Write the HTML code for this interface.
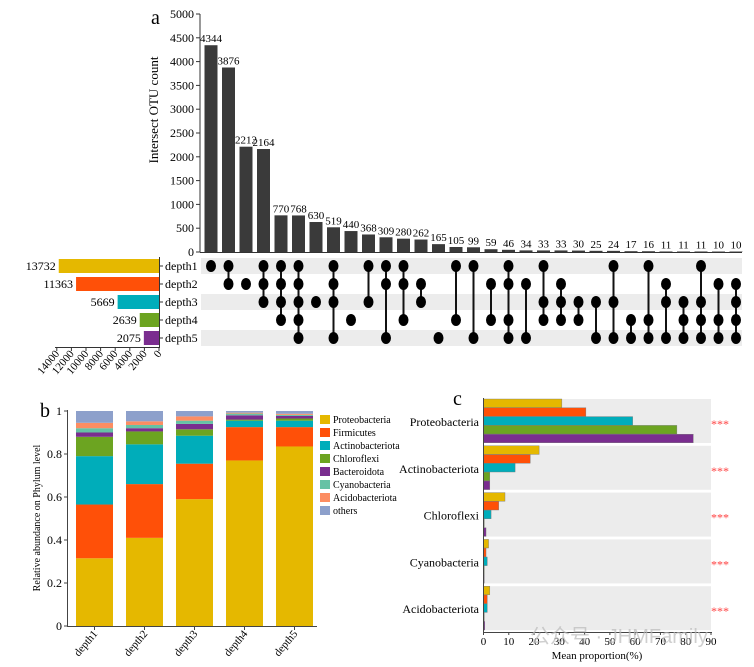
<!DOCTYPE html>
<html><head><meta charset="utf-8">
<style>
html,body{margin:0;padding:0;background:#fff;}
svg{display:block;font-family:"Liberation Serif",serif;}
</style></head>
<body>
<svg id="fig" width="754" height="667" viewBox="0 0 754 667" xmlns="http://www.w3.org/2000/svg"></svg>
<script>
// ---------- Panel a data ----------
const intersectCounts = [4344,3876,2212,2164,770,768,630,519,440,368,309,280,262,165,105,99,59,46,34,33,33,30,25,24,17,16,11,11,11,10,10];
const intersectSets = [[1],[1,2],[2],[1,2,3],[1,2,3,4],[1,2,3,4,5],[3],[1,2,3,5],[4],[1,3],[1,2,5],[1,2,4],[2,3],[5],[1,4],[1,5],[2,4],[1,2,4,5],[2,5],[1,3,4],[2,3,4],[3,4],[3,5],[1,3,5],[4,5],[1,4,5],[2,3,5],[3,4,5],[1,3,4,5],[2,4,5],[2,3,4,5]];
const setNames = ["depth1","depth2","depth3","depth4","depth5"];
const setSizes = [13732,11363,5669,2639,2075];
const upsetTicks = [0,500,1000,1500,2000,2500,3000,3500,4000,4500,5000];
const setTicks = [14000,12000,10000,8000,6000,4000,2000,0];
// ---------- Panel b data ----------
const depths = ["depth1","depth2","depth3","depth4","depth5"];
const phyla = ["Proteobacteria","Firmicutes","Actinobacteriota","Chloroflexi","Bacteroidota","Cyanobacteria","Acidobacteriota","others"];
const proteo = [0.315,0.41,0.59,0.77,0.835];
const firmic = [0.25,0.25,0.165,0.155,0.09];
const actino = [0.225,0.185,0.13,0.03,0.03];
const chloro = [0.09,0.06,0.03,0.005,0.01];
const bactero = [0.02,0.015,0.025,0.02,0.012];
const cyano = [0.02,0.015,0.015,0.008,0.005];
const acido = [0.025,0.017,0.02,0.004,0.005];
const others = [0.055,0.048,0.025,0.008,0.013];
const bTicks = [0,0.2,0.4,0.6,0.8,1];
// ---------- Panel c data ----------
const cCats = ["Proteobacteria","Actinobacteriota","Chloroflexi","Cyanobacteria","Acidobacteriota"];
const cD1 = [31,22,8.5,2,2.5];
const cD2 = [40.5,18.5,6,1,1.5];
const cD3 = [59,12.5,3,1.5,1.5];
const cD4 = [76.5,2.5,0.3,0.3,0.2];
const cD5 = [83,2.5,1,0.2,0.5];
const cTicks = [0,10,20,30,40,50,60,70,80,90];

const COLORS = ["#E5B800","#FF5008","#00ADBA","#6CA421","#7A2D8F","#66C2A5","#FC8D62","#8DA0CB"];
const NS="http://www.w3.org/2000/svg";
const svg=document.getElementById('fig');
function mk(tag,attrs,parent,text){const e=document.createElementNS(NS,tag);for(const k in attrs)e.setAttribute(k,attrs[k]);if(text!==undefined)e.textContent=text;(parent||svg).appendChild(e);return e;}

// ===== Panel a =====
const gA=mk('g',{});


const t=mk('text',{x:151,y:24,'font-size':20},gA,'a');

const ya=v=>252-v*238/5000;
const colX=i=>211+i*17.5;
const rowY=j=>266+j*18;
mk('line',{x1:200,y1:14,x2:200,y2:252,stroke:'#333','stroke-width':1},gA);
mk('line',{x1:200,y1:252.5,x2:742,y2:252.5,stroke:'#333','stroke-width':1},gA);
upsetTicks.forEach(v=>{
  mk('line',{x1:196,y1:ya(v),x2:200,y2:ya(v),stroke:'#333'},gA);
  const tl=mk('text',{x:194,y:ya(v)+4,'font-size':12,'text-anchor':'end'},gA,String(v));
  
});
const yt=mk('text',{x:0,y:0,'font-size':13,'text-anchor':'middle',transform:'translate(158,110) rotate(-90)'},gA,'Intersect OTU count');

[0,2,4].forEach(j=>{
  const r=mk('rect',{x:201,y:rowY(j)-8,width:541,height:16,fill:'#ececec'},gA);
  
});
intersectCounts.forEach((c,i)=>{
  const x=colX(i);
  const b=mk('rect',{x:x-6.5,y:ya(c),width:13,height:252-ya(c),fill:'#3a3a3a'},gA);
  
  const l=mk('text',{x:x,y:ya(c)-3,'font-size':11,'text-anchor':'middle'},gA,String(c));
  
  const s=intersectSets[i];
  if(s.length>1) mk('line',{x1:x,y1:rowY(s[0]-1),x2:x,y2:rowY(s[s.length-1]-1),stroke:'#111','stroke-width':2},gA);
  s.forEach(k=>{
    const d=mk('ellipse',{cx:x,cy:rowY(k-1),rx:5,ry:6,fill:'#000'},gA);
    
  });
});
const xs=v=>159-v*0.0073;
setNames.forEach((n,j)=>{
  const y=rowY(j);
  const b=mk('rect',{x:xs(setSizes[j]),y:y-7,width:159-xs(setSizes[j]),height:14,fill:COLORS[j]},gA);
  
  const l=mk('text',{x:xs(setSizes[j])-3,y:y+4,'font-size':12,'text-anchor':'end'},gA,String(setSizes[j]));
  
  mk('line',{x1:159,y1:y,x2:163,y2:y,stroke:'#333'},gA);
  const nl=mk('text',{x:165,y:y+4,'font-size':12},gA,n);
  
});
mk('line',{x1:159.5,y1:257,x2:159.5,y2:347,stroke:'#333'},gA);
mk('line',{x1:55,y1:347.5,x2:160,y2:347.5,stroke:'#333'},gA);
setTicks.forEach(v=>{
  mk('line',{x1:xs(v),y1:347,x2:xs(v),y2:351,stroke:'#333'},gA);
  const tl=mk('text',{x:0,y:0,'font-size':11,'text-anchor':'end',transform:`translate(${xs(v)+3},354) rotate(-50)`},gA,String(v));
  
});

// ===== Panel b =====
const gB=mk('g',{});


const tb=mk('text',{x:40,y:417,'font-size':20},gB,'b');

const yb=v=>626-v*215;
mk('line',{x1:67.5,y1:410,x2:67.5,y2:627,stroke:'#444'},gB);
mk('line',{x1:67,y1:626.5,x2:317,y2:626.5,stroke:'#444'},gB);
bTicks.forEach(v=>{
  mk('line',{x1:64,y1:yb(v),x2:67,y2:yb(v),stroke:'#444'},gB);
  const tl=mk('text',{x:62,y:yb(v)+4,'font-size':12,'text-anchor':'end'},gB,String(v));
  
});
const ybt=mk('text',{x:0,y:0,'font-size':10,'text-anchor':'middle',transform:'translate(40,518) rotate(-90)'},gB,'Relative abundance on Phylum level');

const series=[proteo,firmic,actino,chloro,bactero,cyano,acido,others];
depths.forEach((d,i)=>{
  const x=76+i*50;let cum=0;
  series.forEach((s,k)=>{
    const r=mk('rect',{x:x,y:yb(cum+s[i]),width:37,height:s[i]*215,fill:COLORS[k]},gB);
    
    cum+=s[i];
  });
  mk('line',{x1:x+18.5,y1:626,x2:x+18.5,y2:630,stroke:'#444'},gB);
  const tl=mk('text',{x:0,y:0,'font-size':11,'text-anchor':'end',transform:`translate(${x+22},634) rotate(-50)`},gB,d);
  
});
phyla.forEach((p,k)=>{
  const y=415+k*13;
  const r=mk('rect',{x:320,y:y,width:10,height:9,fill:COLORS[k]},gB);
  
  const tl=mk('text',{x:333,y:y+8,'font-size':10},gB,p);
  
});

// ===== Panel c =====
const gC=mk('g',{});


const tc=mk('text',{x:453,y:405,'font-size':20},gC,'c');

const xc=v=>483.5+v*227.5/90;
const cSeries=[cD1,cD2,cD3,cD4,cD5];
cCats.forEach((c,g)=>{
  const top=399+g*46.8;
  const bg=mk('rect',{x:484,y:top,width:227,height:44,fill:'#ececec'},gC);
  
  cSeries.forEach((s,k)=>{
    const r=mk('rect',{x:483.5,y:top+k*8.8,width:Math.max(xc(s[g])-483.5,0.8),height:8.6,fill:COLORS[k],stroke:'#777','stroke-width':0.4},gC);
    
  });
  const tl=mk('text',{x:479,y:top+27,'font-size':12,'text-anchor':'end'},gC,c);
  
  const st=mk('text',{x:711,y:top+29,'font-size':12,fill:'#ff4040'},gC,'***');
  
});
mk('line',{x1:483.5,y1:398,x2:483.5,y2:633,stroke:'#444'},gC);
mk('line',{x1:483,y1:632.5,x2:712,y2:632.5,stroke:'#444'},gC);
cTicks.forEach(v=>{
  mk('line',{x1:xc(v),y1:632,x2:xc(v),y2:635,stroke:'#444'},gC);
  const tl=mk('text',{x:xc(v),y:645,'font-size':11,'text-anchor':'middle'},gC,String(v));
  
});
const xct=mk('text',{x:597,y:659,'font-size':11,'text-anchor':'middle'},gC,'Mean proportion(%)');

const wm=mk('text',{x:530,y:643,'font-size':20,fill:'#bbbbbb','fill-opacity':0.7,'font-family':'"Liberation Sans","Noto Sans CJK SC",sans-serif'},gC,'公众号 · JHMFamily');

</script>
</body></html>
